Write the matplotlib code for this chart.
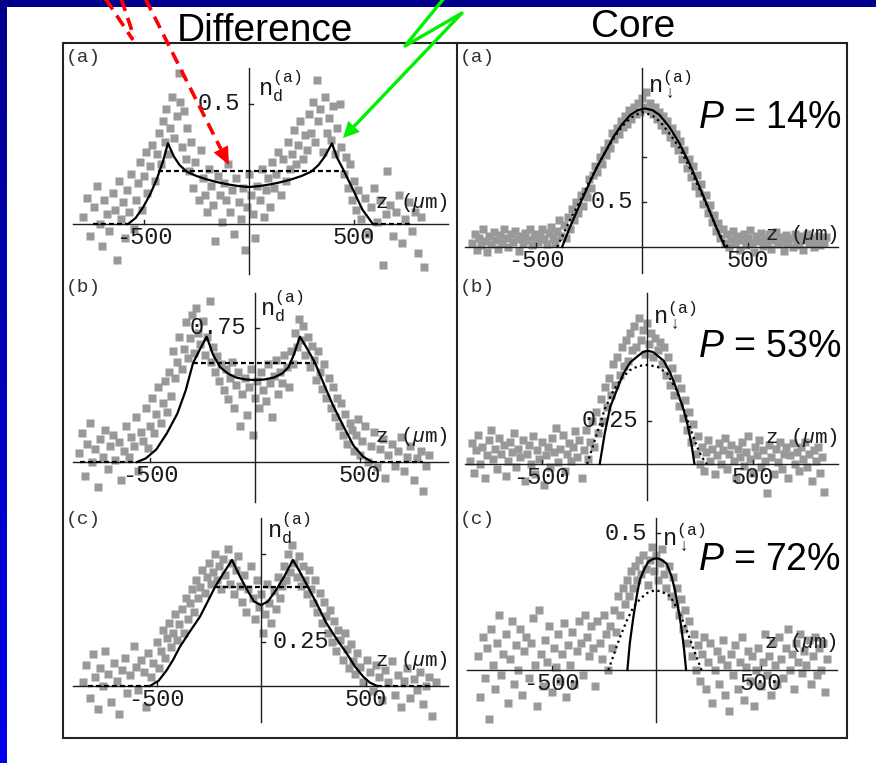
import numpy as np
import matplotlib.pyplot as plt
from matplotlib.patches import Polygon, Rectangle

plt.rcParams['mathtext.fontset'] = 'custom'
plt.rcParams['mathtext.tt'] = 'Liberation Mono'
plt.rcParams['mathtext.rm'] = 'Liberation Sans'
plt.rcParams['mathtext.it'] = 'Liberation Sans:italic'

MONO = 'Liberation Mono'
SANS = 'Liberation Sans'
GREY = '#999999'
INK = '#1e1e1e'
TXT = '#1a1a1a'

# ---- measured densities (z in um, n normalised) ----
diff_a_pts = np.array([
    (-790, 0.03), (-770, 0.11), (-755, -0.05), (-740, 0.07), (-725, 0.16), (-710, 0.0), (-700, -0.09), (-690, 0.1),
    (-675, 0.04), (-665, -0.03), (-650, 0.13), (-640, 0.06), (-630, -0.15), (-620, 0.18), (-610, 0.02), (-600, 0.09),
    (-590, -0.06), (-580, 0.14), (-570, 0.05), (-560, 0.21), (-550, -0.02), (-540, 0.1), (-530, 0.17), (-520, 0.26),
    (-510, 0.06), (-500, 0.2), (-490, 0.3), (-485, 0.13), (-470, 0.24), (-460, 0.33), (-450, 0.18), (-440, 0.29),
    (-430, 0.38), (-420, 0.25), (-410, 0.43), (-400, 0.34), (-395, 0.48), (-385, 0.29), (-375, 0.4), (-365, 0.53),
    (-355, 0.36), (-345, 0.45), (-335, 0.63), (-330, 0.51), (-320, 0.32), (-310, 0.47), (-300, 0.27), (-295, 0.4),
    (-285, 0.22), (-275, 0.34), (-265, 0.15), (-255, 0.26), (-240, 0.1), (-230, 0.31), (-220, 0.19), (-210, 0.12),
    (-200, 0.05), (-190, 0.23), (-180, 0.16), (-170, 0.08), (-160, -0.07), (-150, 0.2), (-140, 0.12), (-130, 0.01),
    (-120, 0.17), (-110, 0.1), (-100, 0.25), (-90, 0.05), (-80, 0.14), (-70, -0.04), (-60, 0.19), (-50, 0.09),
    (-40, 0.02), (-30, 0.15), (-20, -0.11), (-10, 0.07), (0, 0.21), (10, 0.12), (20, 0.04), (30, -0.06),
    (40, 0.16), (50, 0.1), (60, 0.23), (70, 0.03), (80, 0.14), (90, 0.19), (100, 0.07), (110, 0.26),
    (120, 0.15), (130, 0.21), (140, 0.3), (150, 0.12), (160, 0.27), (175, 0.18), (185, 0.34), (195, 0.23),
    (205, 0.29), (215, 0.39), (225, 0.25), (235, 0.33), (245, 0.43), (255, 0.27), (265, 0.37), (275, 0.31),
    (285, 0.46), (295, 0.38), (305, 0.51), (315, 0.34), (322, 0.6), (330, 0.43), (340, 0.48), (350, 0.3),
    (360, 0.53), (370, 0.38), (380, 0.44), (390, 0.35), (400, 0.49), (410, 0.29), (420, 0.4), (433, 0.5),
    (440, 0.32), (450, 0.21), (460, 0.28), (470, 0.15), (480, 0.25), (490, 0.1), (500, 0.18), (510, 0.06),
    (520, 0.14), (535, 0.02), (550, 0.11), (565, -0.04), (580, 0.07), (595, 0.15), (610, 0.01), (625, 0.1),
    (640, -0.17), (650, 0.04), (657, 0.22), (670, 0.08), (685, -0.05), (700, 0.05), (715, 0.12), (730, -0.08),
    (745, 0.02), (760, 0.09), (775, -0.03), (790, 0.05), (805, -0.12), (820, 0.03), (835, -0.18),
])
diff_b_pts = np.array([
    (-840, 0.05), (-825, 0.16), (-810, -0.08), (-800, 0.1), (-785, 0.22), (-775, 0.0), (-760, 0.07), (-750, -0.14),
    (-740, 0.13), (-725, 0.03), (-715, 0.18), (-700, -0.04), (-690, 0.09), (-675, 0.15), (-665, 0.01), (-650, 0.11),
    (-640, -0.1), (-625, 0.06), (-615, 0.2), (-600, 0.03), (-590, 0.14), (-575, 0.09), (-565, 0.25), (-555, -0.05),
    (-545, 0.17), (-535, 0.12), (-520, 0.3), (-510, 0.08), (-500, 0.2), (-490, 0.36), (-480, 0.16), (-470, 0.27),
    (-460, 0.42), (-450, 0.22), (-440, 0.33), (-430, 0.45), (-420, 0.28), (-410, 0.5), (-400, 0.37), (-390, 0.62),
    (-380, 0.47), (-370, 0.56), (-360, 0.7), (-350, 0.52), (-340, 0.63), (-330, 0.78), (-320, 0.58), (-310, 0.69),
    (-300, 0.82), (-290, 0.61), (-280, 0.86), (-270, 0.72), (-260, 0.66), (-250, 0.79), (-240, 0.6), (-230, 0.7),
    (-215, 0.9), (-210, 0.56), (-200, 0.64), (-190, 0.5), (-180, 0.59), (-170, 0.45), (-160, 0.55), (-150, 0.4),
    (-140, 0.52), (-130, 0.35), (-120, 0.47), (-110, 0.56), (-100, 0.3), (-90, 0.43), (-80, 0.5), (-70, 0.2),
    (-60, 0.38), (-50, 0.47), (-40, 0.26), (-30, 0.42), (-20, 0.52), (-10, 0.15), (0, 0.36), (10, 0.45),
    (20, 0.3), (30, 0.5), (40, 0.4), (50, 0.34), (60, 0.55), (70, 0.44), (80, 0.25), (90, 0.48),
    (100, 0.57), (110, 0.38), (120, 0.5), (130, 0.44), (140, 0.6), (150, 0.53), (160, 0.42), (170, 0.62),
    (180, 0.55), (190, 0.72), (200, 0.64), (210, 0.8), (220, 0.68), (230, 0.76), (240, 0.6), (250, 0.7),
    (260, 0.53), (270, 0.65), (280, 0.57), (290, 0.46), (300, 0.62), (310, 0.5), (320, 0.41), (330, 0.55),
    (340, 0.36), (350, 0.47), (360, 0.3), (370, 0.42), (380, 0.25), (390, 0.36), (400, 0.2), (410, 0.33),
    (420, 0.15), (430, 0.27), (440, 0.1), (450, 0.22), (460, 0.18), (470, 0.06), (480, 0.15), (490, 0.24),
    (500, 0.04), (510, 0.12), (525, 0.2), (540, 0.0), (550, 0.09), (565, 0.17), (580, -0.03), (595, 0.07),
    (610, 0.13), (620, -0.09), (635, 0.04), (650, 0.1), (665, -0.02), (680, 0.06), (695, 0.14), (710, -0.05),
    (725, 0.03), (740, 0.09), (755, -0.1), (770, 0.02), (790, 0.06), (800, -0.16), (815, -0.02), (830, 0.04),
])
diff_c_pts = np.array([
    (-850, 0.02), (-835, 0.12), (-820, -0.07), (-805, 0.18), (-795, 0.05), (-780, -0.13), (-770, 0.1), (-755, 0.0),
    (-745, 0.2), (-730, 0.07), (-720, -0.09), (-705, 0.13), (-690, 0.03), (-680, -0.16), (-665, 0.09), (-650, 0.16),
    (-640, -0.04), (-625, 0.06), (-610, 0.23), (-600, 0.11), (-590, -0.02), (-575, 0.15), (-560, 0.08), (-550, -0.12),
    (-540, 0.19), (-525, 0.05), (-515, 0.13), (-500, 0.25), (-490, 0.1), (-480, 0.2), (-470, 0.32), (-460, 0.16),
    (-450, 0.27), (-440, 0.36), (-430, 0.22), (-420, 0.3), (-410, 0.41), (-400, 0.26), (-390, 0.35), (-380, 0.44),
    (-370, 0.3), (-360, 0.5), (-350, 0.38), (-340, 0.47), (-330, 0.55), (-320, 0.42), (-310, 0.6), (-300, 0.5),
    (-290, 0.56), (-280, 0.66), (-270, 0.53), (-260, 0.62), (-250, 0.7), (-240, 0.58), (-230, 0.65), (-220, 0.75),
    (-210, 0.6), (-200, 0.68), (-190, 0.55), (-180, 0.72), (-170, 0.63), (-160, 0.78), (-150, 0.58), (-140, 0.7),
    (-130, 0.52), (-120, 0.66), (-110, 0.74), (-100, 0.57), (-90, 0.48), (-80, 0.63), (-70, 0.42), (-60, 0.55),
    (-50, 0.68), (-40, 0.5), (-30, 0.38), (-20, 0.6), (-10, 0.45), (0, 0.52), (10, 0.3), (20, 0.41),
    (30, 0.58), (40, 0.47), (50, 0.36), (60, 0.54), (70, 0.44), (80, 0.62), (90, 0.5), (100, 0.57),
    (110, 0.68), (120, 0.6), (130, 0.75), (140, 0.65), (150, 0.8), (160, 0.7), (170, 0.62), (180, 0.74),
    (190, 0.57), (200, 0.68), (210, 0.6), (220, 0.52), (230, 0.66), (240, 0.55), (250, 0.47), (260, 0.6),
    (270, 0.42), (280, 0.53), (290, 0.36), (300, 0.48), (310, 0.4), (320, 0.3), (330, 0.43), (340, 0.25),
    (350, 0.37), (360, 0.2), (370, 0.32), (380, 0.26), (390, 0.15), (400, 0.3), (410, 0.21), (420, 0.1),
    (430, 0.24), (440, 0.14), (450, 0.07), (460, 0.19), (475, 0.11), (490, 0.02), (505, 0.15), (520, 0.08),
    (535, -0.03), (550, 0.12), (565, 0.05), (580, -0.08), (595, 0.09), (610, 0.02), (625, 0.14), (640, -0.05),
    (655, 0.06), (670, -0.12), (685, 0.03), (700, 0.1), (715, -0.07), (730, 0.04), (745, -0.02), (760, 0.08),
    (775, -0.1), (790, 0.0), (805, 0.05), (820, -0.17), (835, 0.02),
])
core_a_pts = np.array([
    (-800, 0.05), (-790, 0.15), (-780, -0.03), (-770, 0.1), (-760, 0.02), (-750, 0.2), (-740, 0.07), (-730, -0.05),
    (-720, 0.12), (-710, 0.03), (-700, 0.17), (-690, 0.08), (-680, -0.02), (-670, 0.13), (-660, 0.05), (-650, 0.2),
    (-640, 0.1), (-630, 0.0), (-620, 0.14), (-610, 0.06), (-600, 0.18), (-590, 0.09), (-580, -0.04), (-570, 0.12),
    (-560, 0.04), (-550, 0.16), (-540, 0.08), (-530, 0.2), (-520, 0.02), (-510, 0.11), (-500, 0.15), (-490, 0.06),
    (-480, 0.13), (-470, 0.2), (-460, 0.09), (-450, 0.03), (-440, 0.16), (-430, 0.22), (-420, 0.1), (-410, 0.05),
    (-400, 0.18), (-390, 0.3), (-380, 0.12), (-370, 0.25), (-360, 0.1), (-350, 0.33), (-340, 0.2), (-330, 0.42),
    (-320, 0.3), (-310, 0.5), (-300, 0.38), (-290, 0.58), (-280, 0.45), (-270, 0.62), (-260, 0.55), (-250, 0.75),
    (-240, 0.66), (-230, 0.8), (-220, 0.9), (-210, 0.83), (-200, 1.0), (-190, 0.92), (-180, 1.08), (-170, 1.02),
    (-160, 1.15), (-150, 1.1), (-140, 1.27), (-130, 1.2), (-120, 1.32), (-110, 1.25), (-100, 1.4), (-90, 1.33),
    (-80, 1.45), (-70, 1.37), (-60, 1.52), (-50, 1.42), (-40, 1.55), (-30, 1.48), (-20, 1.6), (-10, 1.5),
    (0, 1.65), (10, 1.56), (20, 1.72), (30, 1.53), (40, 1.6), (50, 1.48), (60, 1.55), (70, 1.42),
    (80, 1.5), (90, 1.36), (100, 1.45), (110, 1.3), (120, 1.4), (130, 1.22), (140, 1.32), (150, 1.15),
    (160, 1.25), (170, 1.08), (180, 1.18), (190, 0.98), (200, 1.08), (210, 0.88), (220, 0.98), (230, 0.78),
    (240, 0.9), (250, 0.68), (260, 0.8), (270, 0.6), (280, 0.7), (290, 0.48), (300, 0.58), (310, 0.38),
    (320, 0.47), (330, 0.28), (340, 0.36), (350, 0.18), (360, 0.27), (370, 0.1), (380, 0.2), (390, 0.05),
    (400, 0.14), (410, 0.0), (420, 0.09), (430, 0.18), (440, 0.04), (450, 0.12), (460, -0.03), (470, 0.08),
    (480, 0.15), (490, 0.02), (500, 0.1), (510, 0.19), (520, 0.05), (530, -0.05), (540, 0.12), (550, 0.07),
    (560, 0.16), (570, 0.01), (580, 0.1), (590, 0.04), (600, 0.14), (610, -0.02), (620, 0.08), (630, 0.17),
    (640, 0.03), (650, 0.11), (660, 0.06), (670, -0.04), (680, 0.13), (690, 0.05), (700, 0.1), (710, 0.0),
    (720, 0.15), (730, 0.07), (740, 0.02), (750, 0.12), (760, -0.03), (770, 0.08), (780, 0.14), (790, 0.04),
    (800, 0.1), (810, 0.0), (820, 0.07), (830, 0.12), (840, 0.02), (850, 0.08), (860, 0.05), (870, 0.11),
])
core_b_pts = np.array([
    (-840, 0.02), (-830, 0.12), (-820, -0.05), (-810, 0.08), (-800, 0.17), (-790, 0.0), (-780, 0.1), (-770, -0.08),
    (-760, 0.05), (-750, 0.14), (-740, 0.2), (-730, 0.03), (-720, 0.09), (-710, -0.03), (-700, 0.15), (-690, 0.06),
    (-680, 0.11), (-670, -0.07), (-660, 0.02), (-650, 0.13), (-640, 0.07), (-630, 0.18), (-620, -0.02), (-610, 0.09),
    (-600, 0.04), (-590, 0.14), (-580, -0.1), (-570, 0.06), (-560, 0.11), (-550, 0.0), (-540, 0.16), (-530, -0.06),
    (-520, 0.08), (-510, 0.03), (-500, 0.13), (-490, -0.12), (-480, 0.05), (-470, 0.1), (-460, -0.02), (-450, 0.15),
    (-440, 0.07), (-430, 0.21), (-420, 0.01), (-410, 0.09), (-400, 0.17), (-390, -0.04), (-380, 0.06), (-370, 0.12),
    (-360, 0.02), (-350, 0.1), (-340, 0.19), (-330, 0.04), (-320, 0.14), (-310, -0.08), (-300, 0.08), (-290, 0.2),
    (-280, 0.03), (-270, 0.13), (-260, 0.25), (-250, 0.1), (-240, 0.3), (-230, 0.18), (-220, 0.38), (-210, 0.25),
    (-200, 0.45), (-190, 0.33), (-180, 0.5), (-170, 0.4), (-160, 0.58), (-150, 0.46), (-140, 0.62), (-130, 0.52),
    (-120, 0.68), (-110, 0.57), (-100, 0.72), (-90, 0.6), (-80, 0.76), (-70, 0.66), (-60, 0.8), (-50, 0.68),
    (-40, 0.85), (-30, 0.72), (-20, 0.78), (-10, 0.64), (0, 0.82), (10, 0.7), (20, 0.76), (30, 0.62),
    (40, 0.73), (50, 0.66), (60, 0.71), (70, 0.58), (80, 0.68), (90, 0.52), (100, 0.62), (110, 0.46),
    (120, 0.56), (130, 0.4), (140, 0.5), (150, 0.34), (160, 0.44), (170, 0.27), (180, 0.37), (190, 0.2),
    (200, 0.3), (210, 0.13), (220, 0.23), (230, 0.06), (240, 0.16), (250, 0.0), (260, 0.1), (270, -0.04),
    (280, 0.07), (290, 0.14), (300, 0.02), (310, 0.09), (320, -0.06), (330, 0.05), (340, 0.12), (350, 0.0),
    (360, 0.08), (370, 0.15), (380, -0.03), (390, 0.06), (400, 0.11), (410, 0.02), (420, -0.08), (430, 0.09),
    (440, 0.04), (450, 0.13), (460, -0.01), (470, 0.07), (480, 0.16), (490, 0.03), (500, -0.05), (510, 0.1),
    (520, 0.05), (530, 0.14), (540, -0.02), (550, 0.08), (560, 0.02), (570, -0.17), (580, 0.11), (590, 0.04),
    (600, -0.06), (610, 0.09), (620, 0.01), (630, 0.13), (640, -0.03), (650, 0.06), (660, 0.1), (670, -0.08),
    (680, 0.05), (690, 0.12), (700, 0.0), (710, 0.07), (720, -0.04), (730, 0.1), (740, 0.03), (750, 0.13),
    (760, -0.02), (770, 0.06), (780, -0.1), (790, 0.08), (800, 0.02), (810, 0.1), (820, -0.05), (830, 0.04),
    (840, -0.16),
])
core_c_pts = np.array([
    (-850, 0.05), (-840, -0.1), (-830, 0.12), (-820, -0.03), (-810, 0.08), (-800, -0.18), (-790, 0.15), (-780, 0.02),
    (-770, -0.07), (-760, 0.1), (-750, 0.2), (-740, -0.02), (-730, 0.06), (-720, 0.13), (-710, -0.12), (-700, 0.04),
    (-690, 0.18), (-680, -0.05), (-670, 0.09), (-660, 0.0), (-650, 0.15), (-640, -0.09), (-630, 0.07), (-620, 0.12),
    (-610, -0.03), (-600, 0.1), (-590, 0.19), (-580, 0.02), (-570, -0.13), (-560, 0.22), (-550, 0.06), (-540, -0.06),
    (-530, 0.11), (-520, 0.03), (-510, 0.16), (-500, -0.08), (-490, 0.08), (-480, 0.01), (-470, 0.13), (-460, -0.04),
    (-450, 0.06), (-440, 0.17), (-430, -0.1), (-420, 0.09), (-410, 0.02), (-400, 0.14), (-390, -0.05), (-380, 0.07),
    (-370, 0.18), (-360, 0.1), (-350, -0.02), (-340, 0.2), (-330, 0.12), (-320, 0.05), (-310, 0.16), (-300, 0.08),
    (-290, -0.06), (-280, 0.18), (-270, 0.1), (-260, 0.04), (-250, 0.2), (-240, 0.13), (-230, 0.0), (-220, 0.16),
    (-210, 0.08), (-200, 0.22), (-190, 0.14), (-180, 0.27), (-170, 0.2), (-160, 0.3), (-150, 0.24), (-140, 0.33),
    (-130, 0.27), (-120, 0.36), (-110, 0.3), (-100, 0.38), (-90, 0.33), (-80, 0.4), (-70, 0.35), (-60, 0.42),
    (-50, 0.37), (-40, 0.31), (-30, 0.4), (-20, 0.45), (-10, 0.36), (0, 0.42), (10, 0.33), (20, 0.39),
    (30, 0.44), (40, 0.35), (50, 0.3), (60, 0.38), (70, 0.27), (80, 0.34), (90, 0.24), (100, 0.3),
    (110, 0.2), (120, 0.26), (130, 0.15), (140, 0.22), (150, 0.1), (160, 0.18), (170, 0.05), (180, 0.13),
    (190, 0.0), (200, 0.09), (210, -0.04), (220, 0.06), (230, 0.12), (240, -0.07), (250, 0.03), (260, 0.1),
    (270, -0.12), (280, 0.0), (290, 0.07), (300, -0.05), (310, 0.04), (320, 0.11), (330, -0.09), (340, 0.02),
    (350, -0.15), (360, 0.06), (370, -0.02), (380, 0.09), (390, -0.07), (400, 0.03), (410, 0.12), (420, -0.11),
    (430, 0.01), (440, 0.07), (450, -0.04), (460, 0.05), (470, -0.13), (480, 0.0), (490, 0.08), (500, -0.06),
    (510, 0.03), (520, 0.13), (530, -0.02), (540, 0.05), (550, -0.09), (560, 0.1), (570, 0.02), (580, -0.05),
    (590, 0.12), (600, 0.04), (610, -0.03), (620, 0.08), (630, 0.15), (640, 0.0), (650, 0.06), (660, -0.07),
    (670, 0.1), (680, 0.03), (690, 0.13), (700, -0.01), (710, 0.07), (720, 0.02), (730, 0.11), (740, -0.05),
    (750, 0.05), (760, 0.12), (770, -0.02), (780, 0.08), (790, 0.0), (800, 0.1), (810, -0.08), (820, 0.04),
])

# ---- model curves ----
diff_a_fit_z = [-576, -540, -504, -470, -440, -410, -386, -357, -330, -296, -250, -202, -150, -100, -50, 0,
                50, 100, 150, 202, 250, 296, 330, 360, 395, 420, 450, 497, 540, 590]
diff_a_fit_n = [0, 0.025, 0.07, 0.125, 0.185, 0.26, 0.336, 0.28, 0.245, 0.218, 0.2, 0.186, 0.174, 0.165, 0.158, 0.154,
                0.158, 0.165, 0.174, 0.186, 0.2, 0.218, 0.245, 0.28, 0.336, 0.275, 0.225, 0.14, 0.06, 0]
diff_b_fit_z = [-562, -520, -470, -420, -370, -330, -295, -262, -230, -200, -166, -130, -90, -45, 0,
                45, 90, 130, 160, 185, 214, 250, 286, 330, 370, 421, 470, 515, 557]
diff_b_fit_n = [0, 0.02, 0.07, 0.16, 0.27, 0.4, 0.553, 0.63, 0.70, 0.6, 0.53, 0.495, 0.472, 0.461, 0.458,
                0.461, 0.472, 0.495, 0.53, 0.6, 0.70, 0.63, 0.553, 0.43, 0.32, 0.2, 0.09, 0.03, 0]
diff_c_fit_z = [-531, -490, -451, -420, -388, -340, -292, -255, -220, -180, -139, -100, -66, -33, 0,
                33, 72, 110, 153, 190, 225, 270, 313, 360, 409, 450, 489, 520, 555]
diff_c_fit_n = [0, 0.03, 0.09, 0.15, 0.223, 0.31, 0.394, 0.48, 0.5625, 0.64, 0.716, 0.62, 0.545, 0.48, 0.46,
                0.48, 0.545, 0.62, 0.716, 0.64, 0.5625, 0.46, 0.357, 0.27, 0.187, 0.11, 0.053, 0.02, 0]
# flat levels (value, z from, z to) and zero stretches outside the cloud
diff_a_level = (0.22, -433, 448)
diff_b_level = (0.553, -295, 286)
diff_c_level = (0.5625, -220, 225)
diff_a_zero = [(-743, -576), (590, 767)]
diff_b_zero = [(-833, -562), (557, 800)]
diff_c_zero = [(-828, -531), (555, 818)]

core_a_fit_z = [-377, -340, -291, -250, -212, -170, -134, -95, -55, -20, 13, 50, 83, 130, 177, 225, 271, 310, 349, 372, 392]
core_a_fit_n = [0, 0.22, 0.485, 0.7, 0.89, 1.07, 1.226, 1.36, 1.467, 1.52, 1.54, 1.52, 1.467, 1.33, 1.15, 0.92, 0.67, 0.45, 0.226, 0.1, 0]
core_a_dot_z = [-400, -340, -290, -250, -210, -170, -130, -90, -50, 0, 50, 90, 130, 177, 225, 271, 310, 350, 380, 405]
core_a_dot_n = [0, 0.3, 0.52, 0.72, 0.9, 1.07, 1.22, 1.35, 1.44, 1.5, 1.46, 1.38, 1.26, 1.1, 0.88, 0.64, 0.44, 0.22, 0.08, 0]
core_b_fit_z = [-224, -200, -174, -140, -111, -80, -47, -20, 3, 30, 79, 110, 142, 170, 190, 210, 225]
core_b_fit_n = [0, 0.18, 0.333, 0.44, 0.527, 0.59, 0.624, 0.65, 0.659, 0.65, 0.60, 0.53, 0.43, 0.33, 0.24, 0.12, 0]
core_b_dot_z = [-284, -260, -237, -200, -158, -120, -79, -40, 3, 50, 95, 135, 174, 205, 237, 260, 284]
core_b_dot_n = [0, 0.09, 0.178, 0.32, 0.43, 0.5, 0.547, 0.57, 0.576, 0.565, 0.527, 0.44, 0.32, 0.21, 0.1, 0.04, 0]
core_c_fit_z = [-137, -125, -108, -90, -77, -55, -37, -15, 3, 25, 51, 75, 91, 110, 123, 135, 144]
core_c_fit_n = [0, 0.1, 0.195, 0.28, 0.33, 0.37, 0.395, 0.405, 0.408, 0.403, 0.388, 0.34, 0.29, 0.21, 0.146, 0.07, 0]
core_c_dot_z = [-228, -200, -172, -140, -108, -75, -45, -10, 20, 67, 105, 147, 180, 218]
core_c_dot_n = [0, 0.06, 0.12, 0.18, 0.23, 0.26, 0.28, 0.29, 0.288, 0.27, 0.22, 0.146, 0.075, 0]

polarisation = ['14%', '53%', '72%']

W, H = 876, 763
fig = plt.figure(figsize=(W / 100, H / 100), dpi=100)
fig.patch.set_facecolor('white')
PT = 0.72  # points per pixel at 100 dpi


def pixel_axes(z):
    ax = fig.add_axes([0, 0, 1, 1], zorder=z)
    ax.axis('off')
    return ax


def fix_pixels(ax):
    ax.set_xlim(0, W)
    ax.set_ylim(H, 0)


# slide background: navy bar on top, blue gradient bar on the left
back = pixel_axes(0)
strip = np.zeros((256, 1, 3))
strip[:, 0, 2] = np.linspace(0.55, 0.93, 256)
back.imshow(strip, extent=[0, 7, H, 0], aspect='auto')
back.add_patch(Rectangle((0, 0), W, 7, color='#00008c', lw=0))
fix_pixels(back)


def panel(cell, origin, sx, sy, xline, yline):
    x0, x1, y0, y1 = cell
    ox, oy = origin
    ax = fig.add_axes([x0 / W, 1 - y1 / H, (x1 - x0) / W, (y1 - y0) / H], zorder=1)
    ax.set_xlim((x0 - ox) / sx, (x1 - ox) / sx)
    ax.set_ylim((oy - y1) / sy, (oy - y0) / sy)
    ax.axis('off')
    # coordinate axes through the origin
    ax.plot([(xline[0] - ox) / sx, (xline[1] - ox) / sx], [0, 0], color=INK, lw=1.0, zorder=2, clip_on=False)
    ax.plot([0, 0], [(oy - yline[1]) / sy, (oy - yline[0]) / sy], color=INK, lw=1.0, zorder=2, clip_on=False)
    for t in (-500, 500):
        ax.plot([t, t], [0, 4 / sy], color=INK, lw=1.0, zorder=2)
        ax.annotate(str(t), (t, 0), xytext=(0, -13.5 * PT), textcoords='offset points',
                    ha='center', va='center', fontsize=17, family=MONO, color=TXT, zorder=4)
    ax.annotate(r'z ($\mu$m)', ((xline[1] - ox) / sx, 0), xytext=(0, 0), textcoords='offset points',
                ha='right', va='center', fontsize=15, family=MONO, color=TXT, zorder=4)
    return ax


def yticks(ax, sy, ticks, label, side):
    for t in ticks:
        ax.plot([0, 4 / 0.21], [t, t], color=INK, lw=1.0, zorder=2)
    t = label
    dx = -9 if side == 'left' else 12
    ax.annotate(str(t), (0, t), xytext=(dx * PT, 0), textcoords='offset points',
                ha='right' if side == 'left' else 'left', va='center', fontsize=17,
                family=MONO, color=TXT, zorder=4)


def zlabel_shift(ax, dy):
    txt = ax.texts[-1]
    txt.xyann = (0, -dy * PT)


def nlabel(ax, sub, dx, dy):
    ax.annotate(r'$\mathtt{n}_{%s}^{\mathtt{(a)}}$' % sub, (0, 0), xytext=(dx * PT, -dy * PT),
                textcoords='offset points', ha='left', va='baseline', fontsize=17, color=TXT, zorder=4)


def scatter(ax, pts):
    ax.plot(pts[:, 0], pts[:, 1], 's', ms=5.2, color=GREY, mec='none', zorder=1)


def diff_curves(ax, fz, fn, level, zeros):
    ax.plot(fz, fn, color='black', lw=1.6, zorder=3)
    ax.plot([level[1], level[2]], [level[0], level[0]], color='black', lw=1.6, ls=(0, (2.2, 1.4)), zorder=3)
    for a, b in zeros:
        ax.plot([a, b], [0, 0], color='black', lw=1.6, ls=(0, (2.2, 1.4)), zorder=3)


def core_curves(ax, fz, fn, dz, dn):
    ax.plot(dz, dn, color='black', lw=1.6, ls=(0, (1, 1.6)), zorder=3)
    ax.plot(fz, fn, color='black', lw=1.6, zorder=3)


LEFT = (63, 457)
RIGHT = (457, 847)
ROWS = [(43, 274), (274, 505), (505, 738)]

# Difference column
ax = panel((*LEFT, *ROWS[0]), (249, 224), 0.21, 240, (73, 448), (68, 274))
scatter(ax, diff_a_pts)
diff_curves(ax, diff_a_fit_z, diff_a_fit_n, diff_a_level, diff_a_zero)
zlabel_shift(ax, -22)
yticks(ax, 240, [0.5], 0.5, 'left')
nlabel(ax, r'\mathtt{d}', 9, -129)

ax = panel((*LEFT, *ROWS[1]), (255, 462), 0.21, 179, (73, 448), (293, 502))
scatter(ax, diff_b_pts)
diff_curves(ax, diff_b_fit_z, diff_b_fit_n, diff_b_level, diff_b_zero)
zlabel_shift(ax, -25)
yticks(ax, 179, [0.75], 0.75, 'left')
nlabel(ax, r'\mathtt{d}', 5, -147)

ax = panel((*LEFT, *ROWS[2]), (261, 686), 0.209, 176, (73, 448), (518, 722))
scatter(ax, diff_c_pts)
diff_curves(ax, diff_c_fit_z, diff_c_fit_n, diff_c_level, diff_c_zero)
zlabel_shift(ax, -26)
yticks(ax, 176, [0.25, 0.75], 0.25, 'right')
nlabel(ax, r'\mathtt{d}', 6, -149)

# Core column
ax = panel((*RIGHT, *ROWS[0]), (642, 247), 0.212, 90, (465, 838), (68, 273))
scatter(ax, core_a_pts)
core_curves(ax, core_a_fit_z, core_a_fit_n, core_a_dot_z, core_a_dot_n)
zlabel_shift(ax, -12)
yticks(ax, 90, [0.5, 1.0], 0.5, 'left')
nlabel(ax, r'\downarrow', 6, -155)

ax = panel((*RIGHT, *ROWS[1]), (647, 464), 0.211, 172, (465, 838), (293, 500))
scatter(ax, core_b_pts)
core_curves(ax, core_b_fit_z, core_b_fit_n, core_b_dot_z, core_b_dot_n)
zlabel_shift(ax, -26)
yticks(ax, 172, [0.25], 0.25, 'left')
nlabel(ax, r'\downarrow', 6, -141)

ax = panel((*RIGHT, *ROWS[2]), (656, 670), 0.209, 274, (467, 837), (518, 722))
scatter(ax, core_c_pts)
core_curves(ax, core_c_fit_z, core_c_fit_n, core_c_dot_z, core_c_dot_n)
zlabel_shift(ax, -28)
yticks(ax, 274, [0.5], 0.5, 'left')
nlabel(ax, r'\downarrow', 6, -125)

# frame, headings, annotations
top = pixel_axes(5)
top.add_patch(Rectangle((63, 43), 784, 695, fill=False, ec='#222222', lw=1.5))
top.plot([457, 457], [43, 738], color='#222222', lw=1.5)
top.text(265, 41, 'Difference', ha='center', va='baseline', fontsize=28, family=SANS)
top.text(633, 37, 'Core', ha='center', va='baseline', fontsize=28, family=SANS)
for (ry, _), lab in zip(ROWS, ['(a)', '(b)', '(c)']):
    for lx in (66, 460):
        top.text(lx, ry + 14, lab, ha='left', va='center', fontsize=14, family=MONO, color='#333333')
for base, p in zip([128, 357, 570], polarisation):
    top.text(698, base, r'$P$ = ' + p, ha='left', va='baseline', fontsize=27, family=SANS)

RED = '#ff0000'
dash = (0, (3.5, 2.0))
top.plot([105, 133], [-2, 40], color=RED, lw=2.6, ls=dash)
top.plot([121, 134], [-2, 37], color=RED, lw=2.6, ls=dash)
tip = np.array([229.0, 165.0])
d = tip - np.array([145.0, 0.0])
d /= np.hypot(*d)
perp = np.array([-d[1], d[0]])
base = tip - 18 * d
top.plot([145, base[0]], [-2, base[1]], color=RED, lw=2.6, ls=dash)
top.add_patch(Polygon([tip, base + 8 * perp, base - 8 * perp], closed=True, color=RED, lw=0))

GREEN = '#00f000'
tip = np.array([343.0, 138.0])
start = np.array([462.0, 13.0])
d = tip - start
d /= np.hypot(*d)
perp = np.array([-d[1], d[0]])
base = tip - 16 * d
top.plot([445, 405, 462, base[0]], [-3, 46, 13, base[1]], color=GREEN, lw=2.4,
         solid_joinstyle='round', solid_capstyle='round')
top.add_patch(Polygon([tip, base + 8 * perp, base - 8 * perp], closed=True, color=GREEN, lw=0))
fix_pixels(top)

fig.savefig('out.png', dpi=100)
